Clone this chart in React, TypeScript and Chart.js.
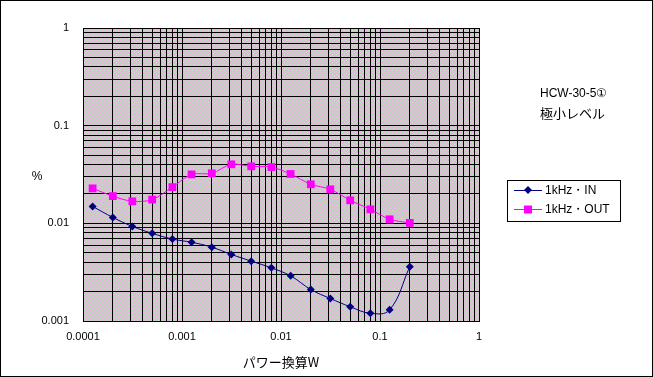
import { useEffect, useRef } from 'react';
import { Chart, registerables } from 'chart.js';
Chart.register(...registerables);

const powerW = [0.000125, 0.0002, 0.000315, 0.0005, 0.0008, 0.00125, 0.002, 0.00315, 0.005, 0.008, 0.0125, 0.02, 0.0315, 0.05, 0.08, 0.125, 0.2];
const inPct = [0.0149, 0.0115, 0.0093, 0.0079, 0.0069, 0.0064, 0.0057, 0.0048, 0.0041, 0.0035, 0.0029, 0.0021, 0.0017, 0.0014, 0.0012, 0.0013, 0.0036];
const outPct = [0.0228, 0.019, 0.0168, 0.0175, 0.0235, 0.0317, 0.0325, 0.0402, 0.0383, 0.0377, 0.032, 0.0251, 0.0223, 0.0172, 0.0139, 0.011, 0.0101];
const seriesNames = ['1kHz・IN', '1kHz・OUT'];
const xTitle = 'パワー換算W';
const yTitle = '%';
const noteLines = ['HCW-30-5①', '極小レベル'];

const FONT = '"Liberation Sans", Arial, sans-serif';
const JFONT = '"Noto Sans CJK JP", sans-serif';

function isPow10(v: number) {
  const l = Math.log10(v);
  return Math.abs(l - Math.round(l)) < 1e-6;
}
function dropHalfTicks(scale: any) {
  scale.ticks = scale.ticks.filter((t: any) => {
    const e = Math.floor(Math.log10(t.value) + 1e-9);
    const m = t.value / Math.pow(10, e);
    return Math.abs(m - 1.5) > 1e-6;
  });
}

export default function App() {
  const ref = useRef<HTMLCanvasElement>(null);
  useEffect(() => {
    document.body.style.margin = '0';
    const canvas = ref.current!;
    const pc = document.createElement('canvas');
    pc.width = 4; pc.height = 4;
    const pctx = pc.getContext('2d')!;
    pctx.fillStyle = '#cdc7cd';
    pctx.fillRect(0, 0, 4, 4);
    pctx.fillStyle = '#eeb0e4';
    pctx.fillRect(0, 0, 1, 1); pctx.fillRect(2, 2, 1, 1);
    pctx.fillStyle = '#bce6bc';
    pctx.fillRect(2, 0, 1, 1); pctx.fillRect(0, 2, 1, 1);

    const bgPlugin = {
      id: 'bg',
      beforeDraw(chart: any) {
        const { ctx, chartArea: a, width, height } = chart;
        ctx.save();
        ctx.fillStyle = '#ffffff';
        ctx.fillRect(0, 0, width, height);
        const pat = ctx.createPattern(pc, 'repeat');
        ctx.fillStyle = pat;
        ctx.fillRect(a.left, a.top, a.right - a.left, a.bottom - a.top);
        ctx.restore();
      },
      afterDraw(chart: any) {
        const { ctx, chartArea: a, width, height } = chart;
        ctx.save();
        ctx.strokeStyle = '#000';
        ctx.lineWidth = 1;
        ctx.strokeRect(0.5, 0.5, width - 1, height - 1);
        ctx.fillStyle = '#000';
        ctx.textBaseline = 'middle';
        ctx.textAlign = 'center';
        ctx.font = `13px ${JFONT}`;
        ctx.fillText(xTitle, (a.left + a.right) / 2, 362);
        ctx.font = `12px ${FONT}`;
        ctx.fillText(yTitle, 37, 177);
        ctx.textAlign = 'left';
        ctx.font = `12px ${FONT}`;
        ctx.fillText(noteLines[0], 540, 94);
        ctx.font = `13px ${JFONT}`;
        ctx.fillText(noteLines[1], 540, 113);
        // legend
        ctx.strokeStyle = '#000';
        ctx.strokeRect(507.5, 180.5, 113, 41);
        const rows = [190, 209];
        chart.data.datasets.forEach((ds: any, i: number) => {
          const y = rows[i];
          ctx.strokeStyle = ds.borderColor;
          ctx.lineWidth = 1;
          ctx.beginPath();
          ctx.moveTo(514, y + 0.5);
          ctx.lineTo(542, y + 0.5);
          ctx.stroke();
          ctx.fillStyle = ds.backgroundColor;
          if (ds.pointStyle === 'rectRot') {
            ctx.beginPath();
            ctx.moveTo(528, y - 4); ctx.lineTo(532, y); ctx.lineTo(528, y + 4); ctx.lineTo(524, y);
            ctx.closePath(); ctx.fill();
          } else {
            ctx.fillRect(524, y - 3.5, 8, 8);
          }
          ctx.fillStyle = '#000';
          ctx.font = `12px ${FONT}`;
          ctx.fillText(ds.label, 545, y + 1);
        });
        ctx.restore();
      },
    };

    const chart = new Chart(canvas, {
      type: 'line',
      data: {
        datasets: [
          {
            label: seriesNames[0],
            data: powerW.map((x, i) => ({ x, y: inPct[i] })),
            borderColor: '#000080',
            backgroundColor: '#000080',
            borderWidth: 1,
            pointStyle: 'rectRot',
            pointRadius: 4,
            pointBorderWidth: 0,
            tension: 0.4,
          },
          {
            label: seriesNames[1],
            data: powerW.map((x, i) => ({ x, y: outPct[i] })),
            borderColor: '#ff00ff',
            backgroundColor: '#ff00ff',
            borderWidth: 1,
            pointStyle: 'rect',
            pointRadius: 5.5,
            pointBorderWidth: 0,
            tension: 0.3,
          },
        ],
      },
      options: {
        responsive: false,
        animation: false,
        layout: { padding: { top: 28, right: 174, left: 0, bottom: 0 } },
        plugins: { legend: { display: false }, tooltip: { enabled: false } },
        scales: {
          x: {
            type: 'logarithmic',
            min: 0.0001,
            max: 1,
            afterBuildTicks: dropHalfTicks,
            afterFit: (s: any) => { s.height = 56; },
            grid: { color: '#000', lineWidth: 1, drawTicks: false },
            border: { color: '#000', width: 1 },
            ticks: {
              autoSkip: false,
              maxRotation: 0,
              padding: 9,
              color: '#000',
              font: { family: FONT, size: 11 },
              callback: (v: any) => (isPow10(Number(v)) ? String(Number(Number(v).toPrecision(1))) : ''),
            },
          },
          y: {
            type: 'logarithmic',
            min: 0.001,
            max: 1,
            afterBuildTicks: dropHalfTicks,
            afterFit: (s: any) => { s.width = 83; },
            grid: { color: '#000', lineWidth: 1, drawTicks: false },
            border: { color: '#000', width: 1 },
            ticks: {
              autoSkip: false,
              padding: 14,
              color: '#000',
              font: { family: FONT, size: 11 },
              callback: (v: any) => (isPow10(Number(v)) ? String(Number(Number(v).toPrecision(1))) : ''),
            },
          },
        },
      },
      plugins: [bgPlugin],
    } as any);
    return () => chart.destroy();
  }, []);
  return (
    <div style={{ position: 'absolute', left: 0, top: 0, width: 653, height: 377 }}>
      <canvas ref={ref} width={653} height={377} />
    </div>
  );
}
